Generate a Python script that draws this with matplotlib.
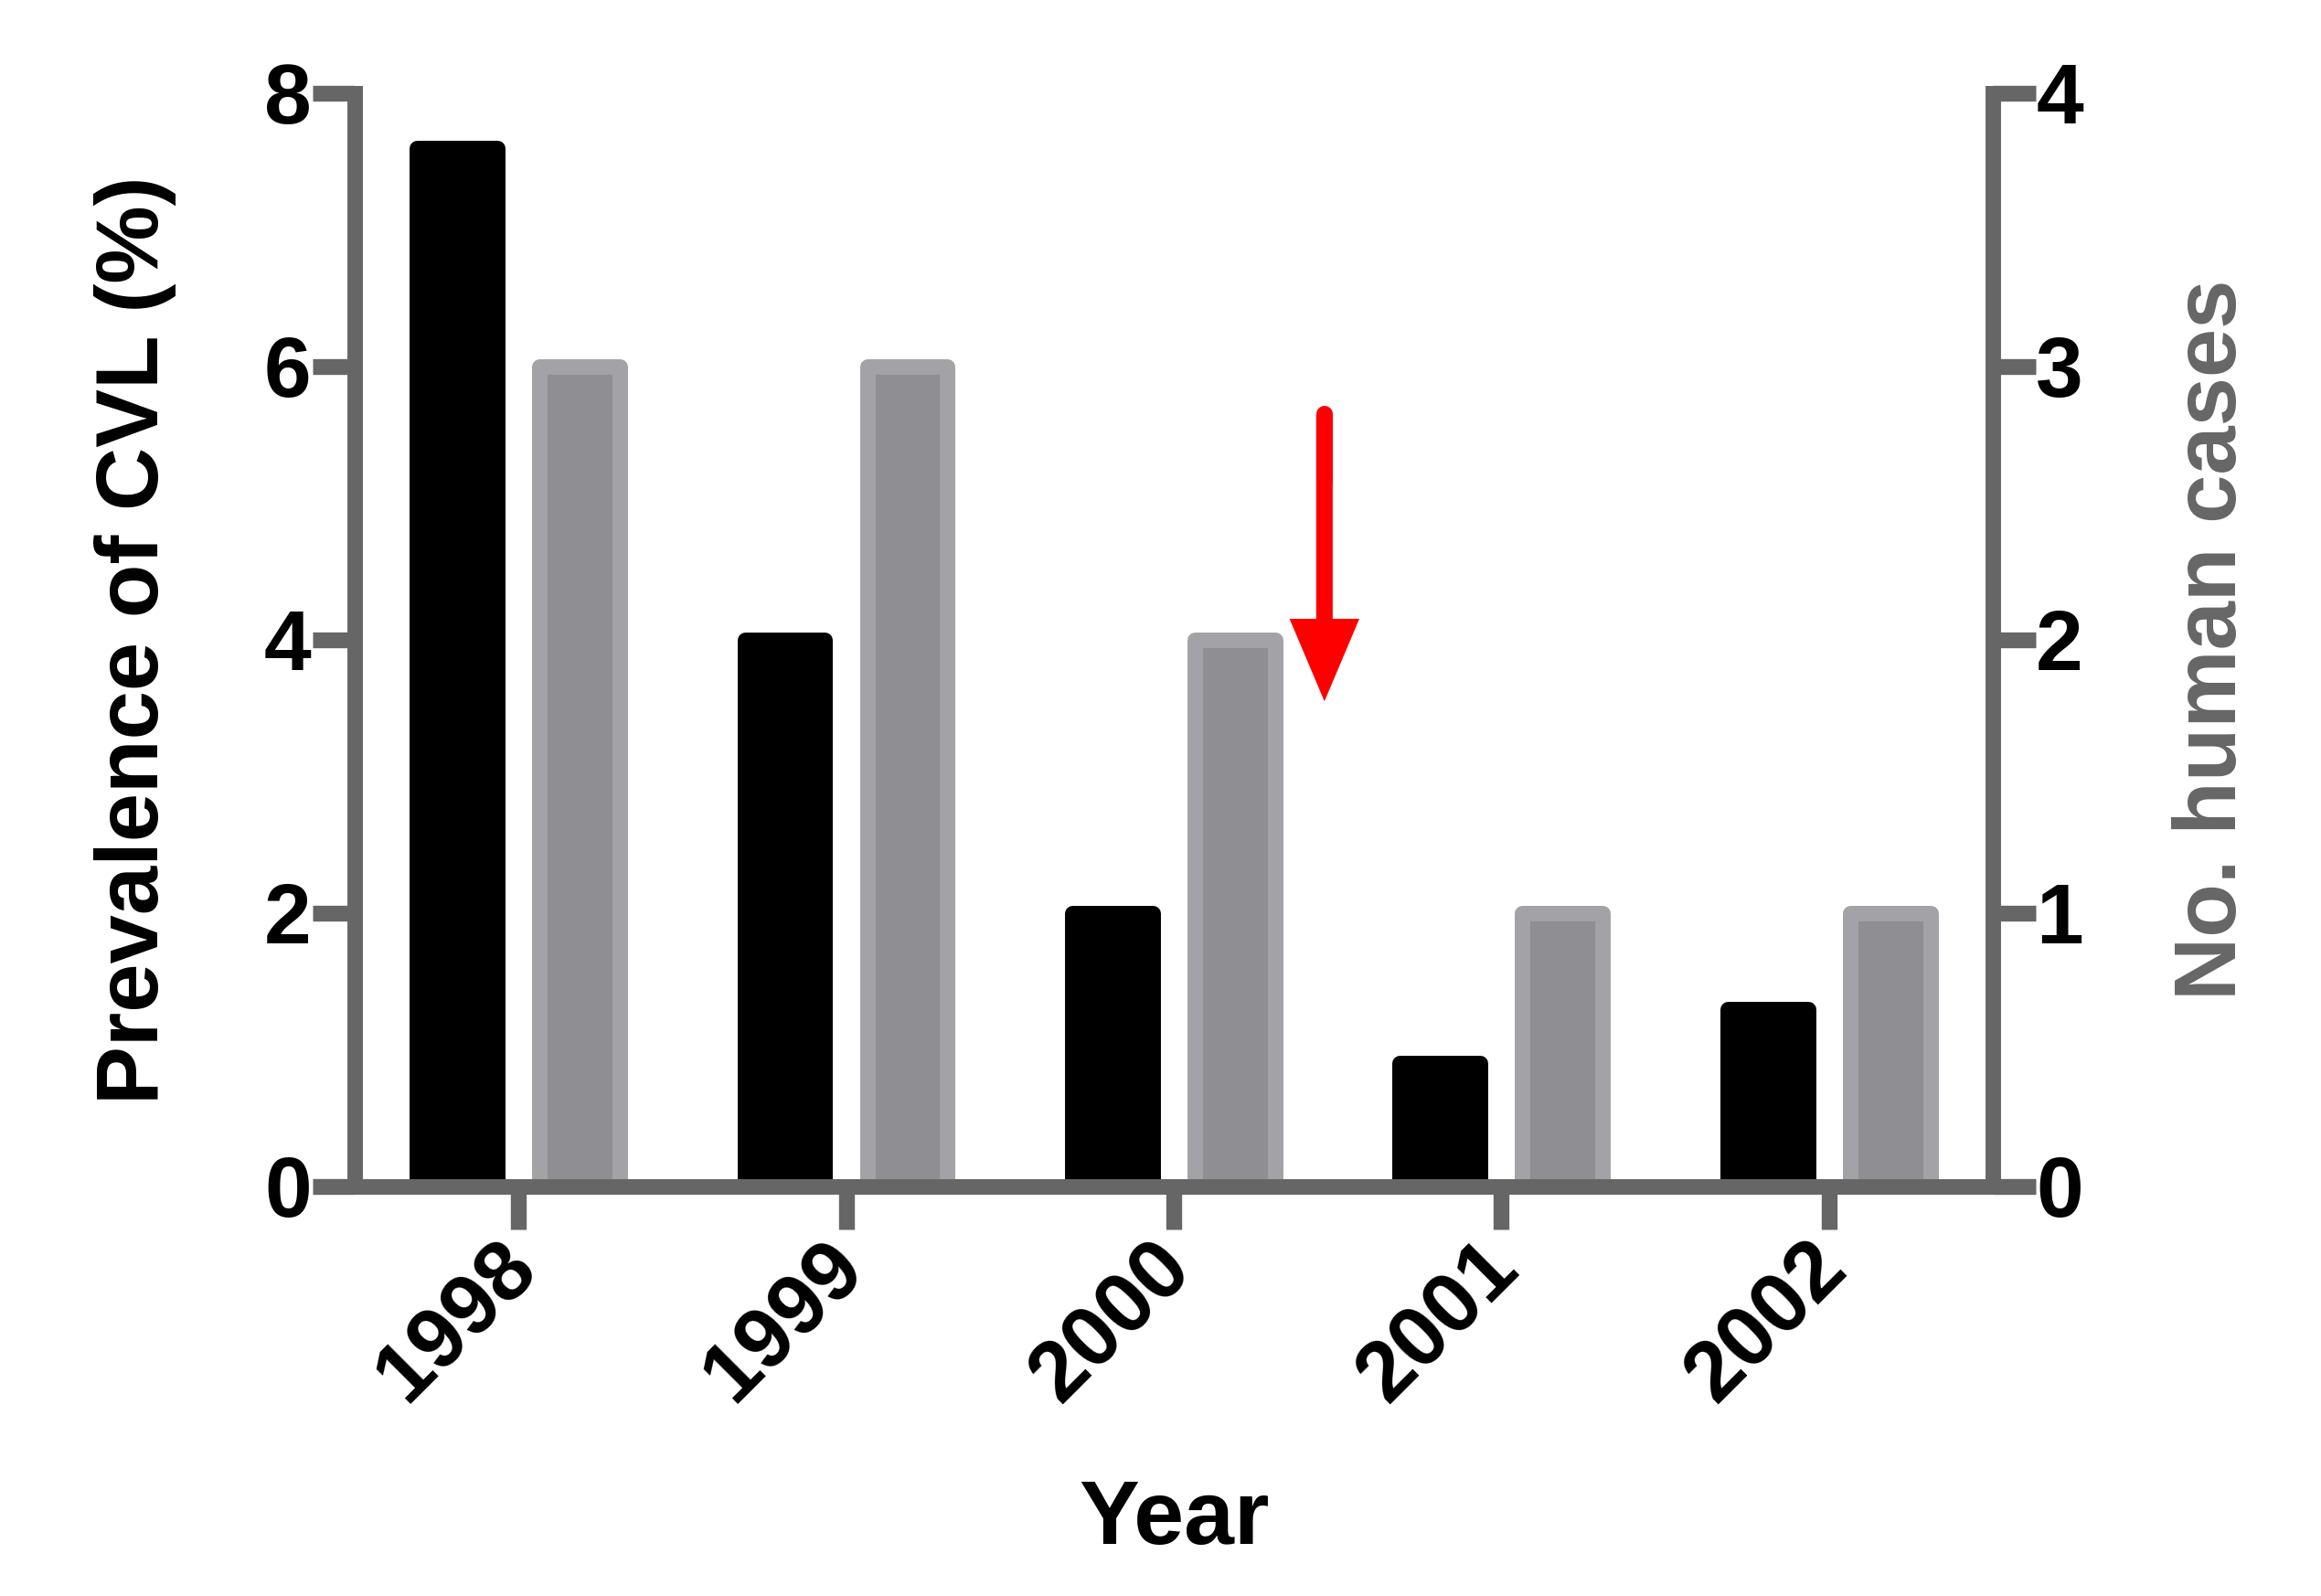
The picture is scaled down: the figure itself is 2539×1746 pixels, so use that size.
import matplotlib.pyplot as plt
import matplotlib.transforms as mtransforms
from matplotlib.patches import ArrowStyle
import numpy as np

# data
years = ["1998", "1999", "2000", "2001", "2002"]
prevalence = [7.6, 4.0, 2.0, 0.9, 1.3]   # left axis, %
human_cases = [3, 3, 2, 1, 1]            # right axis, count

# red arrow marking the intervention (between 2000 and 2001), left-axis units
arrow_x = 2.46
arrow_tail = 5.65
arrow_tip = 3.55

plt.rcParams['font.family'] = ['Liberation Sans', 'DejaVu Sans']
plt.rcParams['font.weight'] = 'bold'

axis_grey = '#666666'
bar_fill = '#8f8e93'
bar_edge = '#a3a2a7'

fig = plt.figure(figsize=(25.39, 17.46), dpi=100)
ax = fig.add_axes([0.1528, 0.2566, 0.8586 - 0.1528, 0.9416 - 0.2566])
ax2 = ax.twinx()

x = np.arange(len(years))
bw = 0.245
off = 0.187

ax.bar(x - off, prevalence, width=bw, color='black', edgecolor='black',
       linewidth=12.2, joinstyle='round', zorder=1)
ax2.bar(x + off, human_cases, width=bw, color=bar_fill, edgecolor=bar_edge,
        linewidth=12.2, joinstyle='round', zorder=1)

ax.set_xlim(-0.5, 4.5)
ax.set_ylim(0, 8)
ax2.set_ylim(0, 4)
ax.set_yticks([0, 2, 4, 6, 8])
ax2.set_yticks([0, 1, 2, 3, 4])
ax.set_xticks(x)
ax.set_xticklabels(years, rotation=45, ha='right', va='center',
                   rotation_mode='anchor')

for a in (ax, ax2):
    for s in a.spines.values():
        s.set_color(axis_grey)
        s.set_linewidth(12.2)
    a.spines['top'].set_visible(False)
ax.spines['right'].set_visible(False)
ax2.spines['left'].set_visible(False)

ax.tick_params(axis='y', length=33, width=12.5, color=axis_grey, pad=1,
               labelsize=67)
ax.tick_params(axis='x', length=34, width=12.5, color=axis_grey, pad=20,
               labelsize=67)
ax2.tick_params(axis='y', length=34, width=12.5, color=axis_grey, pad=0,
                labelsize=67)

# nudge the rotated year labels so their ends sit under the ticks
shift = mtransforms.ScaledTranslation(4 / 72, 0, fig.dpi_scale_trans)
for lab in ax.get_xticklabels():
    lab.set_transform(lab.get_transform() + shift)

ax.set_ylabel("Prevalence of CVL (%)", fontsize=69, fontweight='bold')
ax.yaxis.set_label_coords(-0.1088, 0.5)
ax2.set_ylabel("No. human cases", fontsize=69, fontweight='bold',
               color=axis_grey)
ax2.yaxis.set_label_coords(1.1094, 0.5)
ax.set_xlabel("Year", fontsize=71, fontweight='bold')
ax.xaxis.set_label_coords(0.5003, -0.2676)

ax.annotate('', xy=(arrow_x, arrow_tip), xytext=(arrow_x, arrow_tail),
            arrowprops=dict(arrowstyle=ArrowStyle('simple', head_length=0.65,
                                                  head_width=0.55,
                                                  tail_width=0.13),
                            mutation_scale=100, color='#ff0000', lw=0,
                            shrinkA=0, shrinkB=0))
# rounded top end of the arrow shaft
ax.plot([arrow_x, arrow_x], [arrow_tail, arrow_tail - 0.5], color='#ff0000',
        lw=13, solid_capstyle='round')

fig.savefig('out.png', dpi=100, facecolor='white')
